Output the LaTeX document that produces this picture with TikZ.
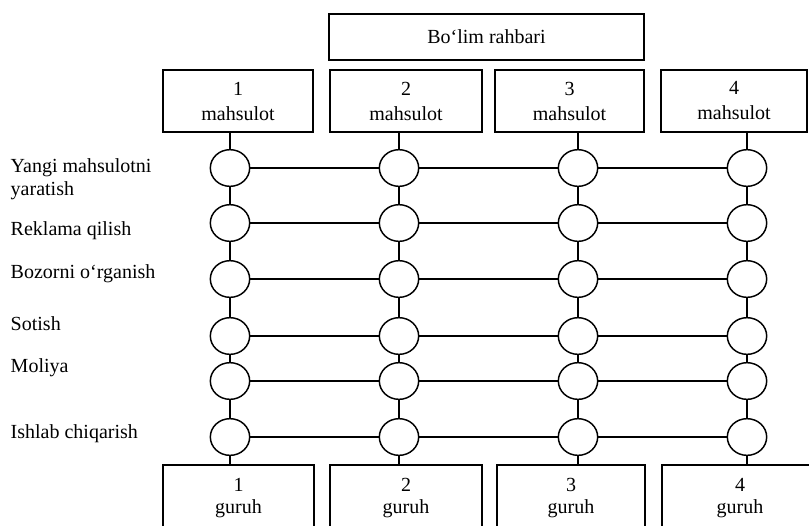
\documentclass[tikz,border=0pt]{standalone}
\usepackage{fontspec}
\setmainfont{Liberation Serif}
\usetikzlibrary{shapes.geometric}
\begin{document}
\begin{tikzpicture}[x=0.75pt,y=-0.75pt,line width=1.1pt,
  box/.style={draw,rectangle,inner sep=0pt,align=center},
  mbox/.style={box,minimum height=46.5pt,font=\fontsize{15}{18.75}\selectfont},
  gbox/.style={box,minimum height=49.5pt,font=\fontsize{15}{16.5}\selectfont},
  bubble/.style={draw,ellipse,inner sep=0pt,minimum width=29.5pt,minimum height=27.5pt},
  lbl/.style={anchor=base west,align=left,inner sep=0pt,font=\fontsize{15}{17.25}\selectfont}]
\useasboundingbox (0,0) rectangle (809,525);
\clip (0,0) rectangle (809,525);
% top box
\node[box,minimum width=236.25pt,minimum height=34.5pt,font=\fontsize{15}{18}\selectfont] (top) at (486.5,37) {Bo‘lim rahbari};
% product boxes
\node[mbox,minimum width=112.5pt] (m1) at (238,101) {1\\mahsulot};
\node[mbox,minimum width=114pt] (m2) at (406,101) {2\\mahsulot};
\node[mbox,minimum width=111.75pt] (m3) at (569.5,101) {3\\mahsulot};
\node[mbox,minimum width=109.5pt] (m4) at (734,101) {4\\mahsulot};
% group boxes
\node[gbox,minimum width=113.25pt] (g1) at (238.5,498) {1\\guruh};
\node[gbox,minimum width=114pt] (g2) at (406,498) {2\\guruh};
\node[gbox,minimum width=111pt] (g3) at (571,498) {3\\guruh};
\node[gbox,minimum width=117pt] (g4) at (740,498) {4\\guruh};
% row labels
\node[lbl] (l1) at (10,195) {Yangi mahsulotni\\yaratish};
\node[lbl] (l2) at (10,235) {Reklama qilish};
\node[lbl] (l3) at (10,278) {Bozorni o‘rganish};
\node[lbl] (l4) at (10,330) {Sotish};
\node[lbl] (l5) at (10,372) {Moliya};
\node[lbl] (l6) at (10,438) {Ishlab chiqarish};
% circles
\foreach \r/\y in {1/168,2/223,3/279,4/336,5/381,6/437}{
  \foreach \c/\x in {1/230,2/399,3/578,4/747}{
    \node[bubble] (c\r\c) at (\x,\y) {};
  }
  \draw (c\r1) -- (c\r2) -- (c\r3) -- (c\r4);
}
% vertical connectors
\foreach \c/\m in {1/m1,2/m2,3/m3,4/m4}{
  \draw (\m.south -| c1\c) -- (c1\c);
  \draw (c1\c) -- (c2\c) -- (c3\c) -- (c4\c) -- (c5\c) -- (c6\c);
}
\draw (c61) -- (g1.north -| c61);
\draw (c62) -- (g2.north -| c62);
\draw (c63) -- (g3.north -| c63);
\draw (c64) -- (g4.north -| c64);
\end{tikzpicture}
\end{document}
